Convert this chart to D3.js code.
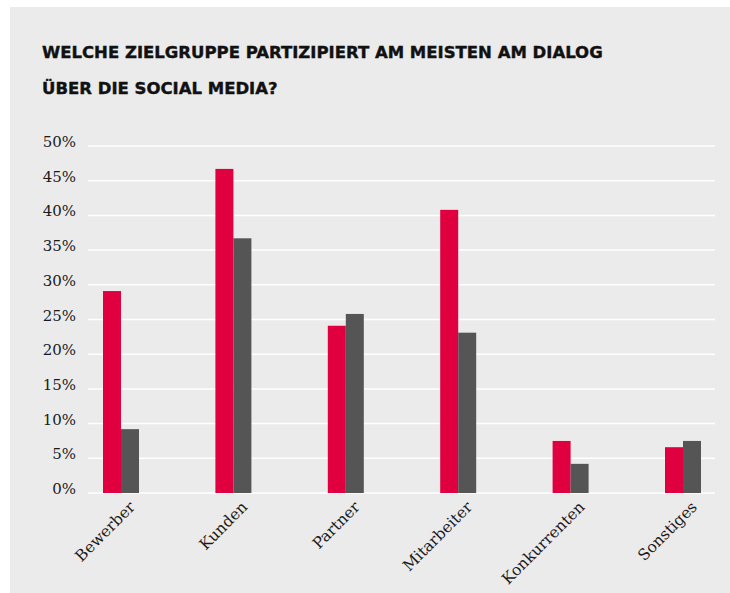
<!DOCTYPE html>
<html>
<head>
<meta charset="utf-8">
<script src="https://cdn.jsdelivr.net/npm/d3@7"></script>
<style>
  html, body { margin: 0; padding: 0; background: #ffffff; }
  svg { display: block; }
</style>
</head>
<body>
<div id="chart"></div>
<script>
// data
const categories = ['Bewerber', 'Kunden', 'Partner', 'Mitarbeiter', 'Konkurrenten', 'Sonstiges'];
const seriesNames = ['a', 'b'];
const seriesA = [29.1, 46.7, 24.1, 40.8, 7.5, 6.6];
const seriesB = [9.2, 36.7, 25.8, 23.1, 4.2, 7.5];
const yTicks = [0, 5, 10, 15, 20, 25, 30, 35, 40, 45, 50];
const titleLines = ['WELCHE ZIELGRUPPE PARTIZIPIERT AM MEISTEN AM DIALOG', 'ÜBER DIE SOCIAL MEDIA?'];

const colors = { a: '#e0003f', b: '#555555' };

const width = 730;
const height = 593;

const svg = d3
  .select('#chart')
  .append('svg')
  .attr('width', width)
  .attr('height', height);

// grey panel
svg
  .append('rect')
  .attr('x', 10)
  .attr('y', 7)
  .attr('width', width - 10)
  .attr('height', height - 7)
  .style('fill', '#ebebeb');

// title
svg
  .append('g')
  .selectAll('text')
  .data(titleLines)
  .join('text')
  .text(d => d)
  .attr('x', 42)
  .attr('y', (d, i) => 58 + i * 36)
  .style('font-family', '"DejaVu Sans", sans-serif')
  .style('font-weight', 'bold')
  .style('font-size', '16.5px')
  .style('fill', '#111111')
  .style('stroke', '#111111')
  .style('stroke-width', 0.4);

// scales
const y = d3.scaleLinear().domain([0, 50]).range([493, 146]);
const x = d3.scaleBand().domain(categories).range([64.8, 739.2]).padding(0);
const x1 = d3.scaleBand().domain(seriesNames).range([0, 36]);

// grid lines
svg
  .append('g')
  .selectAll('line')
  .data(yTicks)
  .join('line')
  .attr('x1', 88)
  .attr('x2', 715)
  .attr('y1', d => y(d))
  .attr('y2', d => y(d))
  .style('stroke', '#ffffff')
  .style('stroke-width', 1.5);

// y axis labels
svg
  .append('g')
  .selectAll('text')
  .data(yTicks)
  .join('text')
  .text(d => d + '%')
  .attr('x', 76)
  .attr('y', d => y(d) + 1)
  .attr('text-anchor', 'end')
  .style('font-family', '"DejaVu Serif", serif')
  .style('font-size', '15px')
  .style('fill', '#1a1a1a');

// bars
const rows = categories.map((c, i) => ({ cat: c, a: seriesA[i], b: seriesB[i] }));

const groups = svg
  .append('g')
  .selectAll('g')
  .data(rows)
  .join('g')
  .attr('transform', d => 'translate(' + (x(d.cat) + x.bandwidth() / 2 - 18) + ',0)');

groups
  .selectAll('rect')
  .data(d => seriesNames.map(k => ({ key: k, value: d[k] })))
  .join('rect')
  .attr('x', d => x1(d.key))
  .attr('width', x1.bandwidth())
  .attr('y', d => y(d.value))
  .attr('height', d => y(0) - y(d.value))
  .style('fill', d => colors[d.key]);

// x labels
svg
  .append('g')
  .selectAll('text')
  .data(categories)
  .join('text')
  .text(d => d)
  .attr('text-anchor', 'end')
  .attr('transform', d => 'translate(' + (x(d) + x.bandwidth() / 2 + 15) + ',508) rotate(-45)')
  .style('font-family', '"DejaVu Serif", serif')
  .style('font-size', '15.5px')
  .style('fill', '#1a1a1a');
</script>
</body>
</html>
